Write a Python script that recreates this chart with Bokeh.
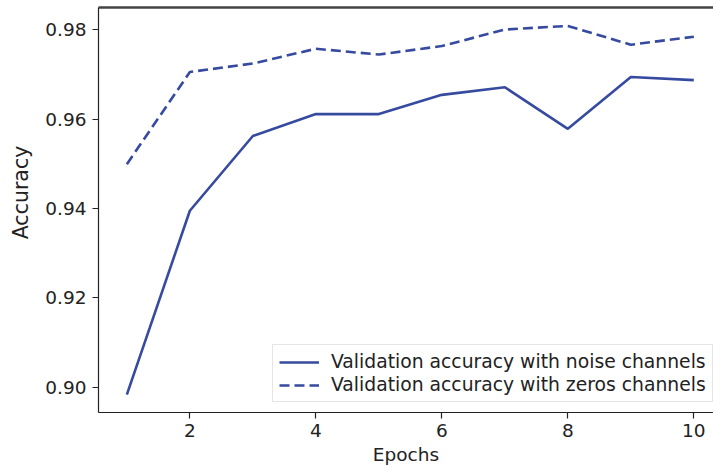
import math
from bokeh.plotting import figure
from bokeh.models import FixedTicker, LinearAxis, Range1d, Legend, LegendItem, NumeralTickFormatter, Label
from bokeh.embed import file_html
from bokeh.resources import INLINE

epochs = [1, 2, 3, 4, 5, 6, 7, 8, 9, 10]
noise_acc = [0.8984, 0.9395, 0.9562, 0.9611, 0.9611, 0.9654, 0.9671, 0.9578, 0.9694, 0.9687]
zeros_acc = [0.9499, 0.9705, 0.9724, 0.9757, 0.9744, 0.9763, 0.9800, 0.9808, 0.9766, 0.9784]
x_ticks = [2, 4, 6, 8, 10]
y_ticks = [0.90, 0.92, 0.94, 0.96, 0.98]
labels = ["Validation accuracy with noise channels", "Validation accuracy with zeros channels"]
y_label = "Accuracy"
x_label = "Epochs"

COLOR = "#364b9f"
FONT = "DejaVu Sans"
FS = "18.5px"

p = figure(width=713, height=470, output_backend="svg", toolbar_location=None,
           x_range=Range1d(0.55, 10.312), y_range=Range1d(0.89441, 0.98492),
           min_border_left=98, min_border_right=0, min_border_top=7, min_border_bottom=58)
p.outline_line_color = None
p.xgrid.visible = False
p.ygrid.visible = False
p.background_fill_color = "white"
p.border_fill_color = "white"

r1 = p.line(epochs, noise_acc, line_color=COLOR, line_width=2.6)
r2 = p.line(epochs, zeros_acc, line_color=COLOR, line_width=2.6, line_dash="10 5")

for ax in (p.xaxis[0], p.yaxis[0]):
    ax.axis_line_color = "#222222"
    ax.axis_line_width = 1.2
    ax.major_tick_line_color = "#222222"
    ax.major_tick_line_width = 1.2
    ax.major_tick_out = 6
    ax.major_tick_in = 0
    ax.minor_tick_line_color = None
    ax.major_label_text_font = FONT
    ax.major_label_text_font_size = FS
    ax.major_label_text_color = "#222222"
    ax.axis_label_text_font = FONT
    ax.axis_label_text_font_size = FS
    ax.axis_label_text_font_style = "normal"
    ax.axis_label_text_color = "#222222"

p.xaxis[0].ticker = FixedTicker(ticks=x_ticks)
p.yaxis[0].ticker = FixedTicker(ticks=y_ticks)
p.yaxis[0].formatter = NumeralTickFormatter(format="0.00")
p.xaxis[0].axis_label = x_label
p.xaxis[0].major_label_standoff = 5
p.yaxis[0].major_label_standoff = 6
p.xaxis[0].axis_label_standoff = 4

ylab = Label(x=2, y=220, x_units="screen", y_units="screen", text=y_label,
             angle=math.pi / 2, text_align="center", text_baseline="middle",
             text_font=FONT, text_font_size="20.5px", text_color="#222222")
p.add_layout(ylab, "left")

top = LinearAxis(axis_line_color="#444444", axis_line_width=2.5,
                 major_tick_line_color=None, minor_tick_line_color=None,
                 major_label_text_font_size="0px", major_label_text_color=None)
top.ticker = FixedTicker(ticks=[])
p.add_layout(top, "above")

legend = Legend(items=[LegendItem(label=labels[0], renderers=[r1]),
                       LegendItem(label=labels[1], renderers=[r2])],
                location=(174, 10))
legend.label_text_font = FONT
legend.label_text_font_size = "18.75px"
legend.label_text_color = "#222222"
legend.glyph_width = 40
legend.label_standoff = 12
legend.padding = 6
legend.spacing = 2
legend.border_line_color = "#cccccc"
legend.border_line_width = 1
legend.background_fill_alpha = 0.85
p.add_layout(legend, "center")

open("out.html", "w").write(file_html(p, INLINE))
